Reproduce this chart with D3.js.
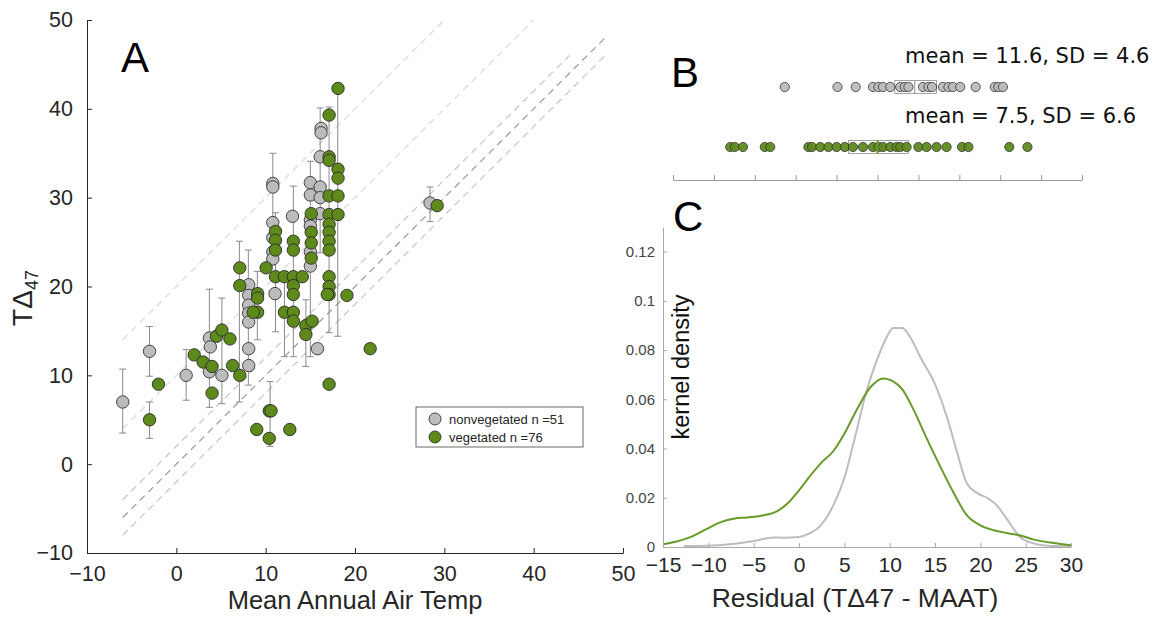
<!DOCTYPE html>
<html>
<head>
<meta charset="utf-8">
<script src="https://cdn.jsdelivr.net/npm/d3@7"></script>
<style>
  body { margin: 0; background: #fff; }
  text { font-family: "Liberation Sans", Arial, sans-serif; }
</style>
</head>
<body>
<div id="chart"></div>
<script>
// ---- panel A: MAAT vs T(D47) ----
const grayMAAT = [-6.0, -3.0, 1.1, 3.7, 3.8, 3.7, 5.1, 8.1, 8.1, 8.1, 8.1, 8.1, 8.1, 8.1,
  10.8, 10.8, 10.8, 10.8, 10.8, 10.8, 11.05, 13.0, 15.0, 15.0, 15.0, 15.0, 15.0, 15.0,
  15.8, 16.2, 16.2, 16.1, 16.1, 16.1, 16.1, 28.4]
const grayT47 = [7.0, 12.7, 10.0, 14.2, 13.2, 10.4, 10.0, 20.2, 19.0, 17.9, 17.0, 16.0, 13.0, 11.1,
  31.6, 31.2, 27.2, 25.5, 23.9, 23.1, 19.2, 27.9, 31.7, 30.3, 27.5, 26.8, 23.9, 22.3,
  13.0, 37.8, 37.3, 34.6, 31.2, 30.0, 28.2, 29.4]

const greenMAAT = [-3.0, -2.0, 2.0, 3.0, 4.0, 4.0, 4.5, 5.1, 6.0, 6.3, 7.1, 7.1, 7.1,
  9.1, 9.1, 9.1, 8.6, 9.0, 10.4, 10.6, 10.4, 12.7, 10.05, 11.1, 11.1, 11.1, 11.1,
  12.1, 12.1, 13.1, 13.1, 13.1, 13.1, 13.1, 13.1, 13.1, 14.1, 14.5, 14.5, 15.2,
  15.1, 15.1, 15.1, 15.1, 17.1, 17.1, 17.1, 17.1, 17.1, 17.1, 17.1, 17.1, 17.1,
  17.1, 17.1, 17.1, 16.9, 17.1, 18.1, 18.1, 18.1, 18.1, 18.1, 19.1, 21.7, 29.2]
const greenT47 = [5.0, 9.0, 12.3, 11.5, 11.0, 8.0, 14.4, 15.1, 14.1, 11.1, 10.0, 22.1, 20.1,
  19.2, 18.7, 17.1, 17.1, 3.9, 6.0, 6.0, 2.9, 3.9, 22.1, 26.2, 25.2, 24.1, 21.1,
  21.1, 17.1, 25.1, 24.1, 21.1, 20.1, 19.1, 17.1, 16.1, 21.1, 15.6, 14.6, 16.1,
  28.2, 26.1, 24.9, 23.2, 39.3, 34.6, 34.2, 30.2, 28.1, 27.0, 26.1, 25.1, 24.1,
  21.1, 20.0, 19.1, 19.1, 9.0, 42.3, 33.2, 32.2, 30.2, 28.1, 19.0, 13.0, 29.1]

// error bars (x, low, high)
const errX    = [-6.0, -3.0, -3.0, 1.1, 3.7, 5.1, 7.06, 8.06, 9.07, 10.5, 10.8, 11.1, 12.1, 13.1, 14.5, 15.0, 16.1, 17.1, 18.07, 28.4]
const errLow  = [3.5, 9.9, 2.9, 7.2, 6.4, 6.8, 7.0, 8.9, 14.0, 2.0, 26.0, 14.9, 12.1, 12.1, 11.0, 12.1, 23.8, 14.8, 14.4, 27.3]
const errHigh = [10.7, 15.5, 7.0, 12.9, 19.7, 18.7, 25.1, 24.1, 21.7, 9.3, 35.0, 28.3, 21.7, 31.3, 18.5, 34.1, 40.1, 40.2, 42.3, 31.2]

// reference lines y = x + offset, drawn from x0 to x1
const refOffset = [20, 10, 2, 0, -2]
const refX0 = [-6, -6, -6, -6, -6]
const refX1 = [30, 40, 44, 48, 48]

const legendLabels = ['nonvegetated n =51', 'vegetated n =76']

// ---- panel B: residuals ----
const grayResid = [-2.7, 3.1, 5.1, 7.0, 7.6, 8.1, 8.9, 10.0, 10.5, 10.9, 12.5, 13.1, 13.5,
  14.7, 15.3, 15.8, 16.6, 18.3, 20.4, 20.8, 21.3]
const greenResid = [-8.7, -8.2, -7.3, -4.9, -4.3, -0.1, 0.3, 1.2, 2.1, 3.0, 3.9, 4.8, 5.9,
  7.0, 7.6, 8.1, 8.9, 9.6, 10.0, 10.7, 12.0, 12.9, 14.0, 15.1, 16.8, 17.5, 22.0, 24.0]
const boxQ1 = [9.4, 4.3]
const boxMed = [11.6, 7.5]
const boxQ3 = [14.0, 10.9]
const statLabels = ['mean = 11.6, SD = 4.6', 'mean = 7.5, SD = 6.6']

// ---- panel C: kernel density ----
const grayKdX = [-12.7, -10, -6.8, -5, -2.8, -1.7, 0, 1.1, 2.4, 3.8, 5, 6, 7.5, 8.6, 9.5, 10.4,
  11.4, 12.3, 13.4, 14.9, 16.3, 17.4, 18.5, 19.6, 20.7, 21.8, 22.9, 24.4, 25.9, 27.4, 30]
const grayKdY = [0.0004, 0.0005, 0.0014, 0.0024, 0.0039, 0.0038, 0.0041, 0.0054, 0.0088, 0.017,
  0.028, 0.042, 0.064, 0.076, 0.084, 0.089, 0.089, 0.085, 0.077, 0.067, 0.053, 0.039, 0.026,
  0.022, 0.020, 0.017, 0.0115, 0.004, 0.0014, 0.0005, 0.0003]
const greenKdX = [-15, -13.5, -12, -10.1, -8.7, -7.2, -5.7, -3.9, -2.4, -1.3, 0, 1.25, 2.4, 3.8,
  5, 6.4, 7.9, 9.3, 10.3, 11.4, 12.6, 14.1, 15.6, 17.1, 18.5, 20, 21.5, 22.9, 24.4, 25.9, 27.7, 30]
const greenKdY = [0.0011, 0.0022, 0.004, 0.0075, 0.010, 0.0115, 0.012, 0.0129, 0.0146, 0.0176,
  0.023, 0.029, 0.034, 0.039, 0.046, 0.056, 0.065, 0.0685, 0.0675, 0.064, 0.056, 0.044, 0.0325,
  0.0217, 0.0129, 0.0088, 0.0068, 0.0057, 0.0047, 0.003, 0.0018, 0.0007]
const kdTicks = [0, 0.02, 0.04, 0.06, 0.08, 0.1, 0.12]
const residTicks = [-15, -10, -5, 0, 5, 10, 15, 20, 25, 30]

const grayFill = '#bcbcbc'
const greenFill = '#5e8a1c'
const axisCol = '#262626'

svg = d3.select('#chart').append('svg')
    .attr('width', 1152)
    .attr('height', 630)

// ===================== A =====================
xA = d3.scaleLinear().domain([-10, 50]).range([87, 623])
yA = d3.scaleLinear().domain([-10, 50]).range([553, 20])

refOffset.forEach(function(off, i) {
    svg.append('line')
        .attr('x1', xA(refX0[i])).attr('y1', yA(refX0[i] + off))
        .attr('x2', xA(refX1[i])).attr('y2', yA(refX1[i] + off))
        .attr('stroke', off == 0 ? '#9a9a9a' : (Math.abs(off) > 5 ? '#dadada' : '#c6c6c6'))
        .attr('stroke-width', 1.2)
        .attr('stroke-dasharray', '7,5')
})

errG = svg.append('g').attr('stroke', '#8a8a8a').attr('stroke-width', 1)
errX.forEach(function(x, i) {
    errG.append('line')
        .attr('x1', xA(x)).attr('x2', xA(x))
        .attr('y1', yA(errLow[i])).attr('y2', yA(errHigh[i]))
    ;[errLow[i], errHigh[i]].forEach(function(v) {
        errG.append('line')
            .attr('x1', xA(x) - 3.5).attr('x2', xA(x) + 3.5)
            .attr('y1', yA(v)).attr('y2', yA(v))
    })
})

svg.append('g').selectAll('circle')
    .data(d3.range(grayMAAT.length)).enter()
    .append('circle')
    .attr('cx', function(i) { return xA(grayMAAT[i]) })
    .attr('cy', function(i) { return yA(grayT47[i]) })
    .attr('r', 6.2)
    .attr('fill', grayFill)
    .attr('stroke', '#333')
    .attr('stroke-width', 0.9)

svg.append('g').selectAll('circle')
    .data(d3.range(greenMAAT.length)).enter()
    .append('circle')
    .attr('cx', function(i) { return xA(greenMAAT[i]) })
    .attr('cy', function(i) { return yA(greenT47[i]) })
    .attr('r', 6.2)
    .attr('fill', greenFill)
    .attr('stroke', '#2a2a2a')
    .attr('stroke-width', 0.9)

axA_x = svg.append('g')
    .attr('transform', 'translate(0,553)')
    .call(d3.axisBottom(xA).tickValues(d3.range(-10, 51, 10)).tickSizeInner(-5).tickSizeOuter(0).tickPadding(13))
axA_y = svg.append('g')
    .attr('transform', 'translate(87,0)')
    .call(d3.axisLeft(yA).tickValues(d3.range(-10, 51, 10)).tickSizeInner(-5).tickSizeOuter(0).tickPadding(14))
;[axA_x, axA_y].forEach(function(g) {
    g.select('.domain').attr('stroke', axisCol)
    g.selectAll('.tick line').attr('stroke', axisCol)
    g.selectAll('.tick text').attr('fill', axisCol).attr('font-size', 21.5)
        .style('font-family', '"Liberation Sans", Arial, sans-serif')
})

svg.append('text')
    .attr('x', 355).attr('y', 609)
    .attr('text-anchor', 'middle')
    .attr('font-size', 25.5)
    .attr('fill', axisCol)
    .text('Mean Annual Air Temp')

yLab = svg.append('text')
    .attr('transform', 'translate(32,298) rotate(-90)')
    .attr('text-anchor', 'middle')
    .attr('font-size', 28)
    .attr('fill', axisCol)
yLab.append('tspan').text('TΔ')
yLab.append('tspan').attr('font-size', 18).attr('dy', 6).text('47')

svg.append('text')
    .attr('x', 121).attr('y', 72)
    .attr('font-size', 42)
    .attr('fill', '#000')
    .text('A')

// legend
leg = svg.append('g')
leg.append('rect')
    .attr('x', 416).attr('y', 407).attr('width', 167).attr('height', 40)
    .attr('fill', '#fff').attr('stroke', '#444').attr('stroke-width', 0.8)
;[grayFill, greenFill].forEach(function(c, i) {
    leg.append('circle')
        .attr('cx', 435).attr('cy', 419 + i * 18).attr('r', 6)
        .attr('fill', c).attr('stroke', '#333').attr('stroke-width', 0.9)
    leg.append('text')
        .attr('x', 449).attr('y', 424 + i * 18)
        .attr('font-size', 13).attr('fill', axisCol)
        .text(legendLabels[i])
})

// ===================== B =====================
xB = d3.scaleLinear().domain([-15, 30]).range([673, 1082])
rowY = [87, 147]

axB = svg.append('g')
    .attr('transform', 'translate(0,180)')
    .call(d3.axisBottom(xB).tickValues(d3.range(-15, 30.01, 4.5)).tickSizeInner(-5).tickSizeOuter(0).tickFormat(''))
axB.select('.domain').attr('stroke', '#9a9a9a')
axB.selectAll('.tick line').attr('stroke', '#9a9a9a')

;[grayResid, greenResid].forEach(function(vals, r) {
    svg.append('rect')
        .attr('x', xB(boxQ1[r])).attr('y', rowY[r] - 6.5)
        .attr('width', xB(boxQ3[r]) - xB(boxQ1[r])).attr('height', 13)
        .attr('fill', 'none').attr('stroke', '#8c8c8c').attr('stroke-width', 0.8)
    svg.append('g').selectAll('circle')
        .data(vals).enter()
        .append('circle')
        .attr('cx', function(d) { return xB(d) })
        .attr('cy', rowY[r])
        .attr('r', 4.6)
        .attr('fill', r == 0 ? grayFill : greenFill)
        .attr('stroke', '#333')
        .attr('stroke-width', 0.8)
        .attr('fill-opacity', 0.95)
    svg.append('line')
        .attr('x1', xB(boxMed[r])).attr('x2', xB(boxMed[r]))
        .attr('y1', rowY[r] - 6.5).attr('y2', rowY[r] + 6.5)
        .attr('stroke', r == 0 ? '#8c8c8c' : '#6b9a2a').attr('stroke-width', r == 0 ? 1 : 2)
    svg.append('text')
        .attr('x', 905).attr('y', rowY[r] - 24)
        .attr('font-size', 21)
        .style('font-family', '"DejaVu Sans", sans-serif')
        .attr('fill', '#111')
        .text(statLabels[r])
})

svg.append('text')
    .attr('x', 671).attr('y', 87)
    .attr('font-size', 42)
    .attr('fill', '#000')
    .text('B')

// ===================== C =====================
xC = d3.scaleLinear().domain([-15, 30]).range([663, 1071])
yC = d3.scaleLinear().domain([0, 0.13]).range([547, 227])

lineC = d3.line()
    .x(function(d) { return xC(d[0]) })
    .y(function(d) { return yC(d[1]) })
    .curve(d3.curveMonotoneX)

svg.append('path')
    .datum(d3.zip(grayKdX, grayKdY))
    .attr('d', lineC)
    .attr('fill', 'none').attr('stroke', '#bdbdbd').attr('stroke-width', 2)
svg.append('path')
    .datum(d3.zip(greenKdX, greenKdY))
    .attr('d', lineC)
    .attr('fill', 'none').attr('stroke', '#6a9a2a').attr('stroke-width', 2)

axC_x = svg.append('g')
    .attr('transform', 'translate(0,547)')
    .call(d3.axisBottom(xC).tickValues(residTicks).tickSizeInner(-4).tickSizeOuter(0).tickPadding(10))
axC_y = svg.append('g')
    .attr('transform', 'translate(663,0)')
    .call(d3.axisLeft(yC).tickValues(kdTicks).tickSizeInner(-4).tickSizeOuter(0).tickPadding(8)
        .tickFormat(function(d) { return +d.toFixed(2) }))
;[axC_x, axC_y].forEach(function(g) {
    g.select('.domain').attr('stroke', '#aaaaaa')
    g.selectAll('.tick line').attr('stroke', '#aaaaaa')
    g.selectAll('.tick text').style('font-family', '"Liberation Sans", Arial, sans-serif')
})
axC_x.selectAll('.tick text').attr('font-size', 21).attr('fill', axisCol)
axC_y.selectAll('.tick text').attr('font-size', 15).attr('fill', '#444')

svg.append('text')
    .attr('transform', 'translate(689,367) rotate(-90)')
    .attr('text-anchor', 'middle')
    .attr('font-size', 23.5)
    .attr('fill', '#111')
    .text('kernel density')

svg.append('text')
    .attr('x', 855).attr('y', 607)
    .attr('text-anchor', 'middle')
    .attr('font-size', 26.5)
    .attr('fill', axisCol)
    .text('Residual (TΔ47 - MAAT)')

svg.append('text')
    .attr('x', 673).attr('y', 231)
    .attr('font-size', 42)
    .attr('fill', '#000')
    .text('C')
</script>
</body>
</html>
